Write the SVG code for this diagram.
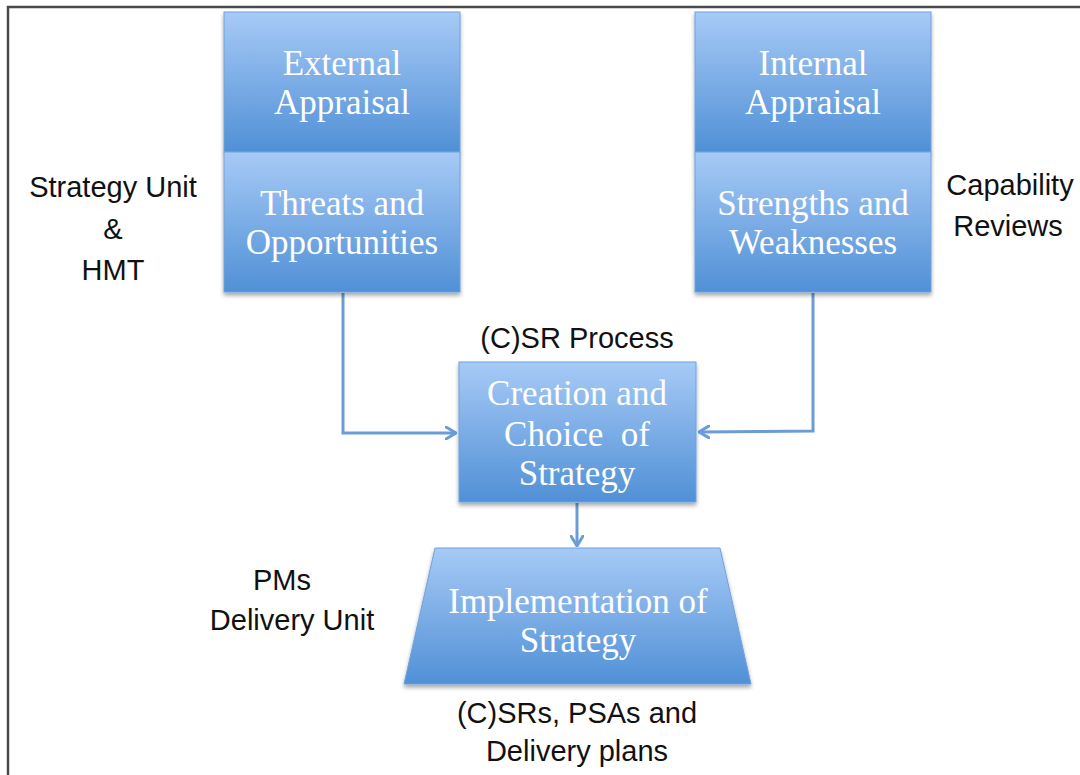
<svg xmlns="http://www.w3.org/2000/svg" width="1080" height="775" viewBox="0 0 1080 775">
<defs>
<linearGradient id="g" x1="0" y1="0" x2="0" y2="1">
<stop offset="0" stop-color="#a7caf6"/>
<stop offset="1" stop-color="#5090d6"/>
</linearGradient>
<filter id="sh" x="-10%" y="-10%" width="120%" height="130%">
<feGaussianBlur in="SourceAlpha" stdDeviation="2"/>
<feOffset dx="0" dy="3" result="b"/>
<feComponentTransfer><feFuncA type="linear" slope="0.35"/></feComponentTransfer>
<feMerge><feMergeNode/><feMergeNode in="SourceGraphic"/></feMerge>
</filter>
<marker id="arr" viewBox="0 0 12 14" refX="11" refY="7" markerWidth="12" markerHeight="14" markerUnits="userSpaceOnUse" orient="auto">
<path d="M1,1 L11,7 L1,13" fill="none" stroke="#6a9dd6" stroke-width="3" stroke-linecap="round" stroke-linejoin="round"/>
</marker>
</defs>
<style>
.box{fill:url(#g);stroke:#6fa2dc;stroke-width:1;filter:url(#sh)}
.bt{font-family:"Liberation Serif","Times New Roman",serif;font-size:35px;fill:#ffffff;text-anchor:middle}
.lb{font-family:"Liberation Sans",Arial,sans-serif;font-size:29px;fill:#111111;text-anchor:middle}
.cn{fill:none;stroke:#6a9dd6;stroke-width:3}
</style>
<rect width="1080" height="775" fill="#ffffff"/>
<g id="frame" fill="none" stroke="#4a4a4a" stroke-width="2.5">
<path d="M8,775 L8,7 L1080,7"/>
</g>
<g id="connectors">
<path class="cn" d="M343,293 L343,433 L456,433" marker-end="url(#arr)"/>
<path class="cn" d="M813,293 L813,431 L699,432" marker-end="url(#arr)"/>
<path class="cn" d="M577,503 L577,546" marker-end="url(#arr)"/>
</g>
<g id="external-appraisal">
<rect class="box" x="224" y="12" width="236" height="140"/>
<text class="bt" x="342" y="75">External</text>
<text class="bt" x="342" y="114">Appraisal</text>
</g>
<g id="threats-opportunities">
<rect class="box" x="224" y="152" width="236" height="140"/>
<text class="bt" x="342" y="215">Threats and</text>
<text class="bt" x="342" y="254">Opportunities</text>
</g>
<g id="internal-appraisal">
<rect class="box" x="695" y="12" width="236" height="140"/>
<text class="bt" x="813" y="75">Internal</text>
<text class="bt" x="813" y="114">Appraisal</text>
</g>
<g id="strengths-weaknesses">
<rect class="box" x="695" y="152" width="236" height="140"/>
<text class="bt" x="813" y="215">Strengths and</text>
<text class="bt" x="813" y="254">Weaknesses</text>
</g>
<g id="creation-choice">
<rect class="box" x="459" y="362" width="237" height="140"/>
<text class="bt" x="577" y="405">Creation and</text>
<text class="bt" x="577" y="446" xml:space="preserve">Choice  of</text>
<text class="bt" x="577" y="485">Strategy</text>
</g>
<g id="implementation">
<path class="box" d="M435,548 L720,548 L751,684 L404,684 Z"/>
<text class="bt" x="578" y="613">Implementation of</text>
<text class="bt" x="578" y="652">Strategy</text>
</g>
<g id="labels">
<text class="lb" x="113" y="197">Strategy Unit</text>
<text class="lb" x="113" y="239">&amp;</text>
<text class="lb" x="113" y="280">HMT</text>
<text class="lb" x="1010" y="195">Capability</text>
<text class="lb" x="1008" y="236">Reviews</text>
<text class="lb" x="577" y="348">(C)SR Process</text>
<text class="lb" x="282" y="590">PMs</text>
<text class="lb" x="292" y="630">Delivery Unit</text>
<text class="lb" x="577" y="723">(C)SRs, PSAs and</text>
<text class="lb" x="577" y="761">Delivery plans</text>
</g>
</svg>
